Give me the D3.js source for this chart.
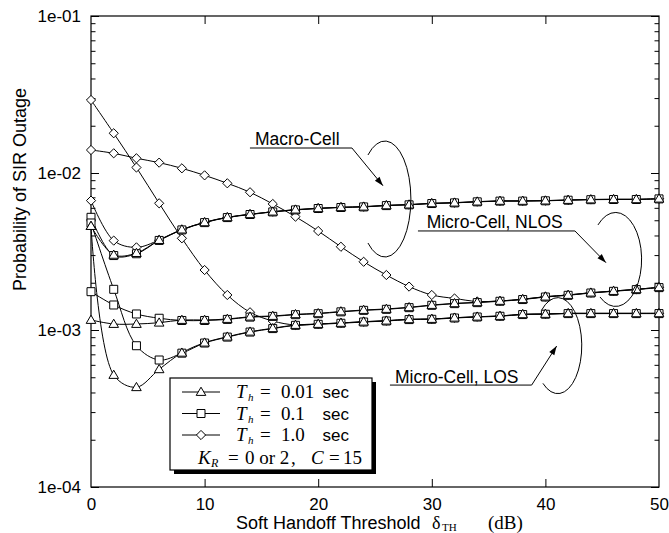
<!DOCTYPE html>
<html>
<head>
<meta charset="utf-8">
<script src="https://cdn.jsdelivr.net/npm/d3@7"></script>
<style>
	body { margin: 0; background: #fff; }
	text { fill: #000; }
</style>
</head>
<body>
<script>
"use strict"
const w = 669;
const h = 533;
const plotLeft = 91, plotRight = 659, plotTop = 16, plotBottom = 487;

// x values (dB)
const thresholds = [0, 2, 4, 6, 8, 10, 12, 14, 16, 18, 20, 22, 24, 26, 28, 30, 32, 34, 36, 38, 40, 42, 44, 46, 48, 50];

// Macro-Cell
const macroTri = [0.00459, 0.00301, 0.00309, 0.00374, 0.00436, 0.00485, 0.00522, 0.00546, 0.00567, 0.00584, 0.00596, 0.00605, 0.00610, 0.00622, 0.00629, 0.00641, 0.00647, 0.00657, 0.00664, 0.00664, 0.00667, 0.00673, 0.00678, 0.00680, 0.00680, 0.00686];
const macroSq = [0.00522, 0.00298, 0.00306, 0.00372, 0.00434, 0.00483, 0.00520, 0.00544, 0.00565, 0.00582, 0.00594, 0.00603, 0.00608, 0.00620, 0.00627, 0.00639, 0.00645, 0.00655, 0.00662, 0.00662, 0.00665, 0.00671, 0.00676, 0.00678, 0.00678, 0.00684];
const macroDia = [0.00667, 0.00371, 0.00336, 0.00374, 0.00436, 0.00485, 0.00522, 0.00546, 0.00567, 0.00584, 0.00596, 0.00605, 0.00610, 0.00622, 0.00629, 0.00641, 0.00647, 0.00657, 0.00664, 0.00664, 0.00667, 0.00673, 0.00678, 0.00680, 0.00680, 0.00686];

// Micro-Cell, NLOS
const nlosTri = [0.001158, 0.001092, 0.001092, 0.001113, 0.001158, 0.001158, 0.001175, 0.001215, 0.001228, 0.001259, 0.001277, 0.001312, 0.001341, 0.001361, 0.001395, 0.001443, 0.001479, 0.001501, 0.001531, 0.001570, 0.001630, 0.001671, 0.001728, 0.001771, 0.001816, 0.001871];
const nlosSq = [0.001754, 0.001443, 0.001265, 0.001188, 0.001150, 0.001150, 0.001168, 0.001208, 0.001221, 0.001252, 0.001270, 0.001305, 0.001334, 0.001354, 0.001388, 0.001436, 0.001472, 0.001494, 0.001524, 0.001563, 0.001622, 0.001663, 0.001720, 0.001763, 0.001808, 0.001862];
const nlosDia = [0.01401, 0.01335, 0.01241, 0.01164, 0.01071, 0.00966, 0.00860, 0.00754, 0.00635, 0.00527, 0.00427, 0.00339, 0.00272, 0.00224, 0.00189, 0.001671, 0.001588, 0.001520, 0.001531, 0.001570, 0.001630, 0.001671, 0.001728, 0.001771, 0.001816, 0.001871];

// Micro-Cell, LOS
const losTri = [0.004592, 0.000517, 0.000432, 0.000562, 0.000716, 0.000830, 0.000906, 0.000975, 0.001026, 0.001076, 0.001092, 0.001109, 0.001129, 0.001146, 0.001170, 0.001175, 0.001197, 0.001215, 0.001228, 0.001259, 0.001265, 0.001277, 0.001277, 0.001277, 0.001277, 0.001277];
const losSq = [0.004805, 0.001816, 0.000794, 0.000644, 0.000712, 0.000826, 0.000901, 0.000970, 0.001021, 0.001071, 0.001087, 0.001104, 0.001124, 0.001141, 0.001165, 0.001170, 0.001192, 0.001210, 0.001223, 0.001254, 0.001260, 0.001272, 0.001272, 0.001272, 0.001272, 0.001272];
const losDia = [0.02917, 0.01791, 0.01084, 0.006412, 0.003837, 0.002410, 0.001671, 0.001297, 0.001141, 0.001076, 0.001092, 0.001109, 0.001129, 0.001146, 0.001170, 0.001175, 0.001197, 0.001215, 0.001228, 0.001259, 0.001265, 0.001277, 0.001277, 0.001277, 0.001277, 0.001277];

const xTicks = [0, 10, 20, 30, 40, 50];
const yTicks = [1e-4, 1e-3, 1e-2, 1e-1];
const yTickLabels = ['1e-04', '1e-03', '1e-02', '1e-01'];

const legendRows = [
	{ symbol: 'tri', value: '0.01' },
	{ symbol: 'sq', value: '0.1' },
	{ symbol: 'dia', value: '1.0' }
];

const annotations = [
	{ label: 'Macro-Cell', tip: [25.7, 0.0083], text: [-128, -40.7], ul: [-133, -31, -37.7], a0: [-15, -30.7], a1: [-15, 57.3], rx: 26, ry: 58 },
	{ label: 'Micro-Cell, NLOS', tip: [45.33, 0.002685], text: [-179.3, -34.4], ul: [-188, -31, -31.7], a0: [-8, -37.7], a1: [-6, 34.3], rx: 26, ry: 47 },
	{ label: 'Micro-Cell, LOS', tip: [40.99, 0.00079], text: [-161.7, 36.7], ul: [-166.7, -25, 39], a0: [-15, -36], a1: [-13.7, 37.3], rx: 24, ry: 48 }
];

const sans = '"Liberation Sans", Arial, Helvetica, sans-serif';
const serif = '"Liberation Serif", "Times New Roman", serif';

const mySvg = d3.select('body')
	.append('svg')
	.attr('width', w)
	.attr('height', h)
	.style('display', 'block');

const xScale = d3.scaleLinear().domain([0, 50]).range([plotLeft, plotRight]);
const yScale = d3.scaleLog().domain([1e-4, 1e-1]).range([plotBottom, plotTop]);

const minorY = [];
[1e-4, 1e-3, 1e-2].forEach(dec => {
	for (let k = 2; k <= 9; k++) minorY.push(dec * k);
});

function styleAxis(g) {
	g.select('.domain').remove();
	g.selectAll('line').attr('stroke', '#000').attr('stroke-width', 1);
	g.selectAll('text').style('font-family', sans).style('font-size', '17px').attr('fill', '#000');
}

// axes
mySvg.append('g')
	.attr('transform', 'translate(0,' + plotBottom + ')')
	.call(d3.axisBottom(xScale).tickValues(xTicks).tickSize(-8).tickPadding(11).tickFormat(d => d))
	.call(styleAxis)
	.call(g => g.selectAll('.tick line').filter(d => d === 0 || d === 50).remove());

mySvg.append('g')
	.attr('transform', 'translate(0,' + plotTop + ')')
	.call(d3.axisTop(xScale).tickValues(xTicks.slice(1, -1)).tickSize(-8).tickFormat(''))
	.call(styleAxis);

mySvg.append('g')
	.attr('transform', 'translate(' + plotLeft + ',0)')
	.call(d3.axisLeft(yScale).tickValues(yTicks).tickSize(-8).tickPadding(10).tickFormat((d, i) => yTickLabels[i]))
	.call(styleAxis);

mySvg.append('g')
	.attr('transform', 'translate(' + plotLeft + ',0)')
	.call(d3.axisLeft(yScale).tickValues(minorY).tickSize(-4.5).tickFormat(''))
	.call(styleAxis);

mySvg.append('g')
	.attr('transform', 'translate(' + plotRight + ',0)')
	.call(d3.axisRight(yScale).tickValues(yTicks).tickSize(-8).tickFormat(''))
	.call(styleAxis);

mySvg.append('g')
	.attr('transform', 'translate(' + plotRight + ',0)')
	.call(d3.axisRight(yScale).tickValues(minorY).tickSize(-4.5).tickFormat(''))
	.call(styleAxis);

mySvg.append('rect')
	.attr('x', plotLeft).attr('y', plotTop)
	.attr('width', plotRight - plotLeft).attr('height', plotBottom - plotTop)
	.attr('fill', 'none').attr('stroke', '#000').attr('stroke-width', 1.2);

// series
const series = [
	{ values: macroDia, symbol: 'dia' },
	{ values: nlosDia, symbol: 'dia' },
	{ values: losDia, symbol: 'dia' },
	{ values: macroSq, symbol: 'sq' },
	{ values: nlosSq, symbol: 'sq' },
	{ values: losSq, symbol: 'sq' },
	{ values: macroTri, symbol: 'tri' },
	{ values: nlosTri, symbol: 'tri' },
	{ values: losTri, symbol: 'tri' }
];

const line = d3.line()
	.x((d, i) => xScale(thresholds[i]))
	.y(d => yScale(d))
	.curve(d3.curveCatmullRom.alpha(0.5));

mySvg.append('g').selectAll('path')
	.data(series)
	.enter()
	.append('path')
	.attr('d', d => line(d.values))
	.attr('fill', 'none')
	.attr('stroke', '#000')
	.attr('stroke-width', 1);

function symbolPath(kind) {
	if (kind === 'sq') return 'M-4,-4H4V4H-4Z';
	if (kind === 'tri') return 'M0,-4.8L4.8,3.4H-4.8Z';
	return 'M0,-4.6L4.6,0L0,4.6L-4.6,0Z';
}

series.forEach(s => {
	mySvg.append('g').selectAll('path')
		.data(s.values)
		.enter()
		.append('path')
		.attr('transform', (d, i) => 'translate(' + xScale(thresholds[i]) + ',' + yScale(d) + ')')
		.attr('d', symbolPath(s.symbol))
		.attr('fill', '#fff')
		.attr('stroke', '#000')
		.attr('stroke-width', 1);
});

// annotations
annotations.forEach(a => {
	const tx = xScale(a.tip[0]), ty = yScale(a.tip[1]);
	const g = mySvg.append('g');
	g.append('text')
		.attr('x', tx + a.text[0]).attr('y', ty + a.text[1])
		.style('font-family', sans).style('font-size', '17.5px')
		.text(a.label);
	const ux0 = tx + a.ul[0], ux1 = tx + a.ul[1], uy = ty + a.ul[2];
	g.append('path')
		.attr('d', 'M' + ux0 + ',' + uy + 'H' + ux1 + 'L' + tx + ',' + ty)
		.attr('fill', 'none').attr('stroke', '#000').attr('stroke-width', 1);
	const ang = Math.atan2(ty - uy, tx - ux1);
	const len = 9, hw = 3;
	const bx = tx - len * Math.cos(ang), by = ty - len * Math.sin(ang);
	g.append('path')
		.attr('d', 'M' + tx + ',' + ty
			+ 'L' + (bx + hw * Math.sin(ang)) + ',' + (by - hw * Math.cos(ang))
			+ 'L' + (bx - hw * Math.sin(ang)) + ',' + (by + hw * Math.cos(ang)) + 'Z')
		.attr('fill', '#000');
	g.append('path')
		.attr('d', 'M' + (tx + a.a0[0]) + ',' + (ty + a.a0[1])
			+ 'A' + a.rx + ',' + a.ry + ' 0 1 1 ' + (tx + a.a1[0]) + ',' + (ty + a.a1[1]))
		.attr('fill', 'none').attr('stroke', '#000').attr('stroke-width', 1);
});

// legend
const lx = 170, ly = 378, lw = 202, lh = 92;
const legend = mySvg.append('g');
legend.append('rect')
	.attr('x', lx + 4).attr('y', ly + 4).attr('width', lw).attr('height', lh)
	.attr('fill', '#000');
legend.append('rect')
	.attr('x', lx).attr('y', ly).attr('width', lw).attr('height', lh)
	.attr('fill', '#fff').attr('stroke', '#000').attr('stroke-width', 1.2);

legendRows.forEach((r, i) => {
	const base = ly + 20 + i * 21.5;
	const cy = base - 6;
	legend.append('line')
		.attr('x1', lx + 12).attr('x2', lx + 50).attr('y1', cy).attr('y2', cy)
		.attr('stroke', '#000');
	legend.append('path')
		.attr('transform', 'translate(' + (lx + 31) + ',' + cy + ')')
		.attr('d', symbolPath(r.symbol))
		.attr('fill', '#fff').attr('stroke', '#000');
	const t = legend.append('text').attr('y', base).style('font-family', serif).style('font-size', '19px');
	t.append('tspan').attr('x', lx + 66).style('font-style', 'italic').text('T');
	t.append('tspan').attr('x', lx + 78).attr('dy', 3).style('font-style', 'italic').style('font-size', '11px').text('h');
	t.append('tspan').attr('x', lx + 90).attr('dy', -3).text('=');
	t.append('tspan').attr('x', lx + 111).text(r.value);
	legend.append('text')
		.attr('x', lx + 152.5).attr('y', base)
		.style('font-family', sans).style('font-size', '17px')
		.text('sec');
});

const k = legend.append('text').attr('y', ly + 86).style('font-family', serif).style('font-size', '19px');
k.append('tspan').attr('x', lx + 28).style('font-style', 'italic').text('K');
k.append('tspan').attr('x', lx + 41).attr('dy', 3).style('font-style', 'italic').style('font-size', '12px').text('R');
k.append('tspan').attr('x', lx + 58).attr('dy', -3).text('=');
k.append('tspan').attr('x', lx + 75).text('0 or 2');
k.append('tspan').attr('x', lx + 121).text(',');
k.append('tspan').attr('x', lx + 141).style('font-style', 'italic').text('C');
k.append('tspan').attr('x', lx + 159).text('=');
k.append('tspan').attr('x', lx + 173).text('15');

// axis titles
mySvg.append('text')
	.attr('transform', 'translate(26,88) rotate(-90)')
	.attr('text-anchor', 'end')
	.style('font-family', sans).style('font-size', '18px')
	.text('Probability of SIR Outage');

const xt = mySvg.append('text').attr('y', 529);
xt.append('tspan').attr('x', 236).style('font-family', sans).style('font-size', '18px').text('Soft Handoff Threshold');
xt.append('tspan').attr('x', 432).style('font-family', serif).style('font-size', '18px').text('δ');
xt.append('tspan').attr('x', 442).attr('dy', 2).style('font-family', serif).style('font-size', '11px').text('TH');
xt.append('tspan').attr('x', 488).attr('dy', -2).style('font-family', serif).style('font-size', '19px').text('(dB)');
</script>
</body>
</html>
